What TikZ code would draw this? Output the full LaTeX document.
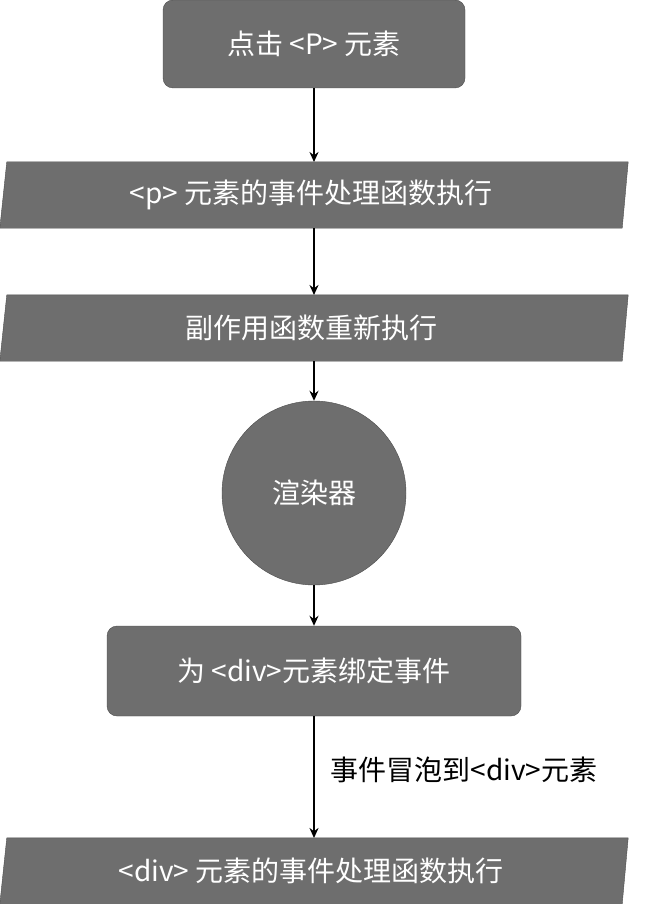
\documentclass[tikz,border=0pt]{standalone}
\usepackage{fontspec}
\setmainfont{Noto Sans CJK SC}
\usetikzlibrary{calc,arrows.meta}
\begin{document}
\begin{tikzpicture}[x=1pt,y=-1pt,
	box/.style={draw=black!70,fill=black!57,rounded corners=10pt,text=white,font=\fontsize{28}{32}\selectfont},
	io/.style={text=white,font=\fontsize{28}{32}\selectfont,minimum height=66pt,minimum width=622pt},
	flow/.style={line width=2.5pt,-{Stealth[length=10pt,width=9pt]}}]
	% Bounding box
	\useasboundingbox (0,0) rectangle (662,904);
	
	% Parallelogram outline
	\newcommand{\slantbox}[1]{%
		\fill[black!57,draw=black!70] ($(#1.north west)+(7,0)$) -- ($(#1.north east)+(6,0)$)
			-- ($(#1.south east)+(0,0)$) -- ($(#1.south west)+(0,0)$) -- cycle;}
	
	% Start
	\node[box,minimum width=302pt,minimum height=88pt] (click) at (314,44) {点击 <P> 元素};
	
	% Handler of p
	\node[io] (phandler) at (311,195) {};
	\slantbox{phandler}
	\node[text=white,font=\fontsize{28}{32}\selectfont] at (phandler) {<p> 元素的事件处理函数执行};
	
	% Effect
	\node[io] (effect) at (311,328) {};
	\slantbox{effect}
	\node[text=white,font=\fontsize{28}{32}\selectfont] at (effect) {副作用函数重新执行};
	
	% Renderer
	\node[circle,draw=black!70,fill=black!57,minimum size=184pt,text=white,
		font=\fontsize{28}{32}\selectfont] (renderer) at (314,493) {渲染器};
	
	% Bind
	\node[box,minimum width=414pt,minimum height=90pt] (bind) at (314,671) {为 <div>元素绑定事件};
	
	% Handler of div
	\node[io] (divhandler) at (311,871) {};
	\slantbox{divhandler}
	\node[text=white,font=\fontsize{28}{32}\selectfont] at (divhandler) {<div> 元素的事件处理函数执行};
	
	% Arrows
	\draw[flow] (click) -- (314,162);
	\draw[flow] (314,228) -- (314,295);
	\draw[flow] (314,361) -- (renderer);
	\draw[flow] (renderer) -- (bind);
	\draw[flow] (bind) -- (314,838);
	\node[anchor=west,font=\fontsize{28}{32}\selectfont] (bubble) at (327,770) {事件冒泡到<div>元素};
\end{tikzpicture}
\end{document}
